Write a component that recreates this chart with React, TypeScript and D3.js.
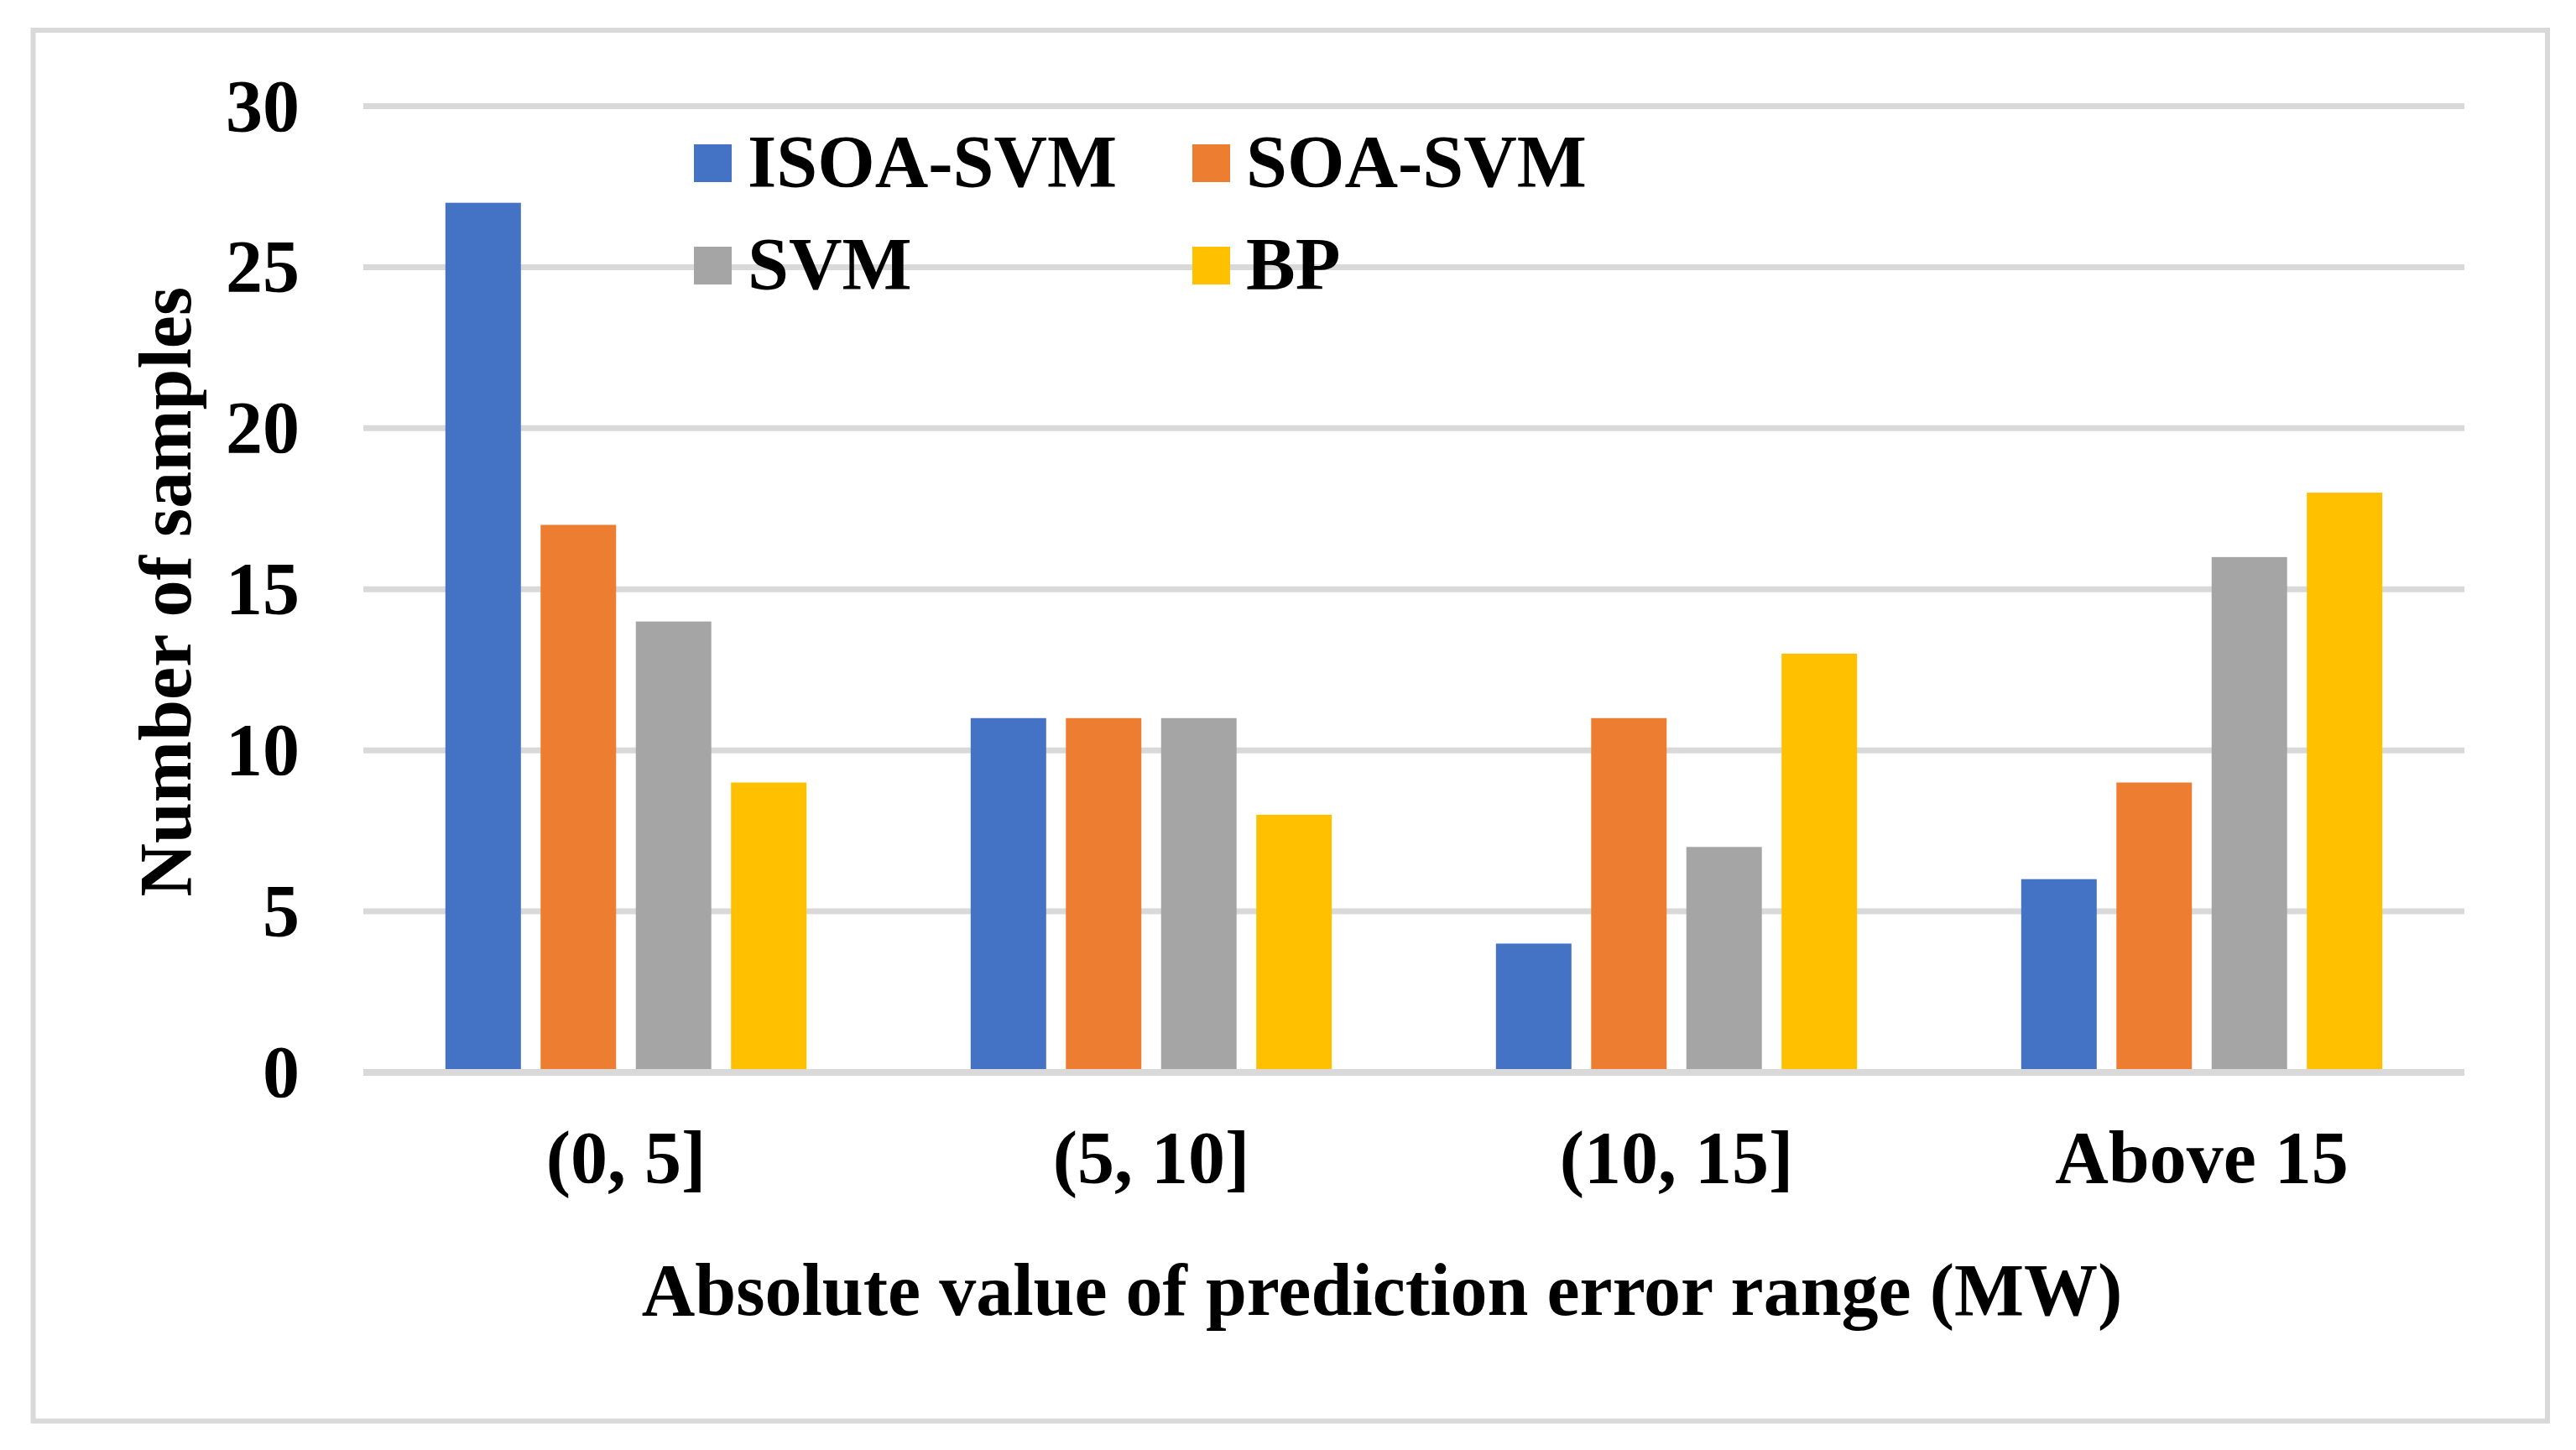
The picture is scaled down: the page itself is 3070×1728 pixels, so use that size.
import { useEffect, useRef } from "react";
import * as d3 from "d3";

const categories = ["(0, 5]", "(5, 10]", "(10, 15]", "Above 15"];
const seriesNames = ["ISOA-SVM", "SOA-SVM", "SVM", "BP"];
const isoaSvm = [27, 11, 4, 6];
const soaSvm = [17, 11, 11, 9];
const svm = [14, 11, 7, 16];
const bp = [9, 8, 13, 18];
const yTicks = [0, 5, 10, 15, 20, 25, 30];
const colors = ["#4472C4", "#ED7D31", "#A5A5A5", "#FFC000"];

const W = 3070;
const H = 1728;
const PLOT = { left: 433, right: 2937, top: 126.5, bottom: 1278 };
const FONT = "'Times New Roman', 'Liberation Serif', serif";
const FS = 88;

export default function App() {
  const svgRef = useRef<SVGSVGElement>(null);

  useEffect(() => {
    const svg = d3.select(svgRef.current);
    svg.selectAll("*").remove();
    svg.attr("width", W).attr("height", H).attr("viewBox", `0 0 ${W} ${H}`);

    svg.append("rect").attr("width", W).attr("height", H).attr("fill", "#ffffff");

    // chart border
    svg.append("rect")
      .attr("x", 39.5)
      .attr("y", 36)
      .attr("width", 3036 - 39.5)
      .attr("height", 1693.5 - 36)
      .attr("fill", "none")
      .attr("stroke", "#D9D9D9")
      .attr("stroke-width", 6);

    const allSeries = [isoaSvm, soaSvm, svm, bp];

    const x0 = d3.scaleBand<string>()
      .domain(categories)
      .range([PLOT.left, PLOT.right])
      .paddingInner(0.275)
      .paddingOuter(0.1375);

    const x1 = d3.scaleBand<string>()
      .domain(seriesNames)
      .range([0, x0.bandwidth()])
      .paddingInner(0.207)
      .paddingOuter(0.1035);

    const y = d3.scaleLinear().domain([0, 30]).range([PLOT.bottom, PLOT.top]);

    // gridlines (except zero, drawn on top of bars)
    yTicks.filter((t) => t !== 0).forEach((t) => {
      svg.append("line")
        .attr("x1", PLOT.left)
        .attr("x2", PLOT.right)
        .attr("y1", y(t))
        .attr("y2", y(t))
        .attr("stroke", "#D9D9D9")
        .attr("stroke-width", 7);
    });

    // bars
    categories.forEach((cat, ci) => {
      seriesNames.forEach((s, si) => {
        const v = allSeries[si][ci];
        svg.append("rect")
          .attr("x", (x0(cat) ?? 0) + (x1(s) ?? 0))
          .attr("y", y(v))
          .attr("width", x1.bandwidth())
          .attr("height", y(0) - y(v))
          .attr("fill", colors[si]);
      });
    });

    // zero axis line
    svg.append("line")
      .attr("x1", PLOT.left)
      .attr("x2", PLOT.right)
      .attr("y1", y(0))
      .attr("y2", y(0))
      .attr("stroke", "#D9D9D9")
      .attr("stroke-width", 8);

    // y tick labels
    yTicks.forEach((t) => {
      svg.append("text")
        .attr("x", 357)
        .attr("y", y(t) + 29)
        .attr("text-anchor", "end")
        .attr("font-family", FONT)
        .attr("font-weight", "bold")
        .attr("font-size", FS)
        .attr("fill", "#000")
        .text(String(t));
    });

    // x tick labels
    categories.forEach((cat) => {
      svg.append("text")
        .attr("x", (x0(cat) ?? 0) + x0.bandwidth() / 2)
        .attr("y", 1409)
        .attr("text-anchor", "middle")
        .attr("font-family", FONT)
        .attr("font-weight", "bold")
        .attr("font-size", FS)
        .attr("fill", "#000")
        .text(cat);
    });

    // axis titles
    svg.append("text")
      .attr("x", 1647)
      .attr("y", 1567)
      .attr("text-anchor", "middle")
      .attr("font-family", FONT)
      .attr("font-weight", "bold")
      .attr("font-size", FS)
      .attr("fill", "#000")
      .text("Absolute value of prediction error range (MW)");

    svg.append("text")
      .attr("transform", `translate(227,${(PLOT.top + PLOT.bottom) / 2 + 3}) rotate(-90)`)
      .attr("text-anchor", "middle")
      .attr("font-family", FONT)
      .attr("font-weight", "bold")
      .attr("font-size", FS)
      .attr("fill", "#000")
      .text("Number of samples");

    // legend, 2 x 2
    const legendX = [827, 1421];
    const legendY = [172, 294];
    seriesNames.forEach((s, i) => {
      const lx = legendX[i % 2];
      const ly = legendY[Math.floor(i / 2)];
      svg.append("rect")
        .attr("x", lx)
        .attr("y", ly)
        .attr("width", 45)
        .attr("height", 45)
        .attr("fill", colors[i]);
      svg.append("text")
        .attr("x", lx + 64)
        .attr("y", ly + 50)
        .attr("font-family", FONT)
        .attr("font-weight", "bold")
        .attr("font-size", FS)
        .attr("fill", "#000")
        .text(s);
    });
  }, []);

  return (
    <svg
      ref={svgRef}
      style={{ position: "absolute", left: 0, top: 0, display: "block" }}
    />
  );
}
